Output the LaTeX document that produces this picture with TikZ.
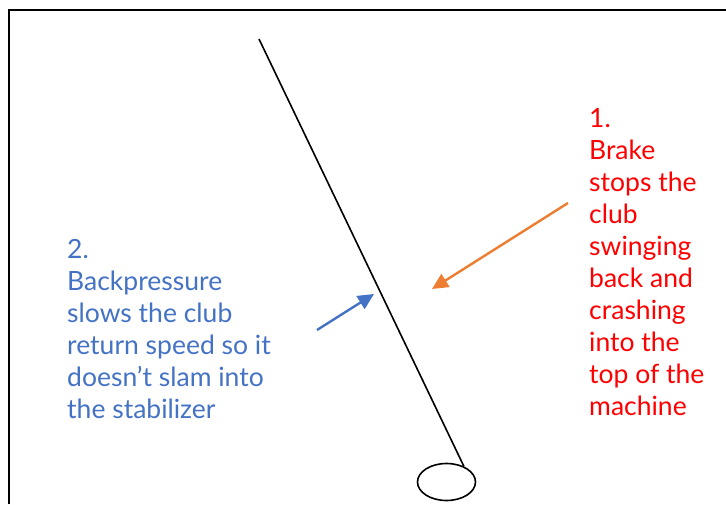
\documentclass[tikz,border=0pt]{standalone}
\usepackage{fontspec}
\setmainfont{Lato}
\usetikzlibrary{arrows.meta,shapes.geometric}
\definecolor{noteBlue}{RGB}{68,114,196}
\definecolor{noteOrange}{RGB}{237,125,49}
\definecolor{noteRed}{RGB}{255,0,0}
\tikzset{
  note/.style  = {anchor=base west, align=left, inner sep=0pt,
                  font=\fontsize{26.5}{32}\selectfont},
  callout/.style = {-{Triangle[length=16pt,width=15pt]}, line width=2.4pt},
  shaft/.style = {line width=1.6pt}
}
\begin{document}
\begin{tikzpicture}[x=1pt, y=-1pt]
  \useasboundingbox (0,0) rectangle (726,504);

  %% -- frame (top and left edge only) ---------------------------
  \draw[line width=1.8pt] (9,504) -- (9,10) -- (726,10);

  %% -- club ------------------------------------------------------
  \node[draw, ellipse, line width=1.6pt, minimum width=58pt,
        minimum height=37pt, inner sep=0pt] (head) at (446.5,482) {};
  \coordinate (grip) at (259,39);
  \draw[shaft] (grip) -- (head.42);

  %% -- notes (anchored at the baseline of the last line) ---------
  \node[note, text=noteBlue] (back) at (67,418)
    {2.\\Backpressure\\slows the club\\return speed so it\\doesn’t slam into\\the stabilizer};
  \node[note, text=noteRed] (brake) at (589,415)
    {1.\\Brake\\stops the\\club\\swinging\\back and\\crashing\\into the\\top of the\\machine};

  %% -- callout arrows --------------------------------------------
  \coordinate (backTail) at (317,330);
  \coordinate (backTip)  at (374,294);
  \coordinate (brakeTail) at (568,203);
  \coordinate (brakeTip)  at (432,289);
  \draw[callout, noteBlue]   (backTail)  -- (backTip);
  \draw[callout, noteOrange] (brakeTail) -- (brakeTip);
\end{tikzpicture}
\end{document}
